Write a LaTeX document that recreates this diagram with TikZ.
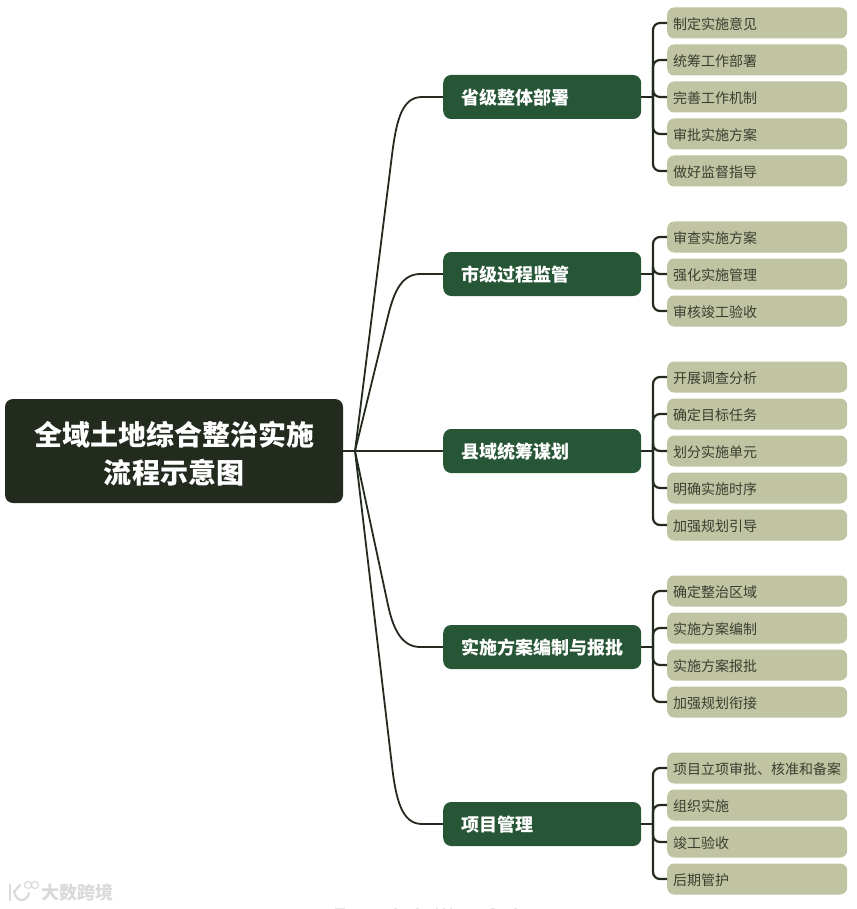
\documentclass[tikz,border=0pt]{standalone}
\usepackage{fontspec}
\setmainfont{Noto Sans CJK SC}
\definecolor{rootc}{HTML}{222B1E}
\definecolor{midc}{HTML}{275636}
\definecolor{leafc}{HTML}{C0C4A2}
\definecolor{leaft}{HTML}{3C3F30}
\definecolor{wm}{HTML}{DADADA}
\definecolor{wmfaint}{HTML}{E6E6E6}
\tikzset{
  rootbox/.style={fill=rootc,rounded corners=8pt,text=white,font=\bfseries\fontsize{28}{38}\selectfont,align=center,minimum width=338pt,minimum height=104pt,inner sep=0pt},
  midbox/.style={fill=midc,rounded corners=8pt,text=white,font=\bfseries\fontsize{18}{22}\selectfont,text width=180pt,text height=15.7pt,text depth=0pt,inner xsep=9pt,inner ysep=0pt,minimum height=44pt,anchor=west},
  leafbox/.style={fill=leafc,rounded corners=7pt,text=leaft,font=\fontsize{14}{18}\selectfont,text width=174pt,text height=12.2pt,text depth=0pt,inner xsep=3pt,inner ysep=0pt,minimum height=31pt,anchor=west},
  link/.style={draw=rootc,line width=1.8pt},
  spine/.style={draw=rootc,line width=2.2pt,rounded corners=7pt},
  wmline/.style={draw=wm,line width=2.2pt,line cap=round,line join=round}
}
\begin{document}
\begin{tikzpicture}[x=1pt,y=-1pt]
\useasboundingbox (0,0) rectangle (856,909);
\node[rootbox] (root) at (174,451) {\rule{0pt}{30pt}全域土地综合整治实施\\流程示意图};
\coordinate (j) at (355,451);
\draw[link] (root.east) -- (j);
% middle nodes
\foreach \n/\y/\t in {1/97/省级整体部署,2/274/市级过程监管,3/451/县域统筹谋划,4/647/实施方案编制与报批,5/824/项目管理}{
  \node[midbox] (m\n) at (443,\y) {\hspace{9pt}\t};
  \coordinate (s\n) at (653,\y);
  \draw[spine,rounded corners=0pt] (m\n.east) -- (s\n);
}
% root to middle
\draw[link] (j) -- (392,155) .. controls (396.4,120) and (402,97) .. (422,97) -- (m1.west);
\draw[link] (j) -- (388,316) .. controls (393,296) and (400,274) .. (420,274) -- (m2.west);
\draw[link] (j) -- (m3.west);
\draw[link] (j) -- (388,605) .. controls (392.3,625) and (400,647) .. (420,647) -- (m4.west);
\draw[link] (j) -- (392,766) .. controls (396,800) and (402,824) .. (422,824) -- (m5.west);
% leaves
\foreach \g/\k/\y/\t in {
  1/1/23/制定实施意见,1/2/60/统筹工作部署,1/3/97/完善工作机制,1/4/134/审批实施方案,1/5/171/做好监督指导,
  2/1/237/审查实施方案,2/2/274/强化实施管理,2/3/311/审核竣工验收,
  3/1/377/开展调查分析,3/2/414/确定目标任务,3/3/451/划分实施单元,3/4/488/明确实施时序,3/5/525/加强规划引导,
  4/1/591/确定整治区域,4/2/628/实施方案编制,4/3/665/实施方案报批,4/4/702/加强规划衔接,
  5/1/768/项目立项审批、核准和备案,5/2/805/组织实施,5/3/842/竣工验收,5/4/879/后期管护}{
  \node[leafbox] (l\g\k) at (667,\y) {\hspace{3pt}\t};
  \draw[spine] (s\g) |- (l\g\k.west);
}
% watermark
\node[text=wm,font=\bfseries\fontsize{18}{18}\selectfont,anchor=west,inner sep=0pt] (wmtext) at (41,893) {大数跨境};
\draw[wmline] (10,885) -- (10,900);
\draw[wmline] (20,885) -- (14,892) .. controls (17,903) and (27,902) .. (29,893);
\draw[draw=wm,line width=1.2pt] (28,885) circle (3.5pt) (35,885) circle (3.5pt);
% clipped line of text at the lower edge: only its tops are visible
\foreach \a/\b in {335/345,394/397,416/419,436/438,443/445,450/452,491/495,514/517}{
  \fill[wmfaint] (\a,907.5) rectangle (\b,909);
}
\end{tikzpicture}
\end{document}
